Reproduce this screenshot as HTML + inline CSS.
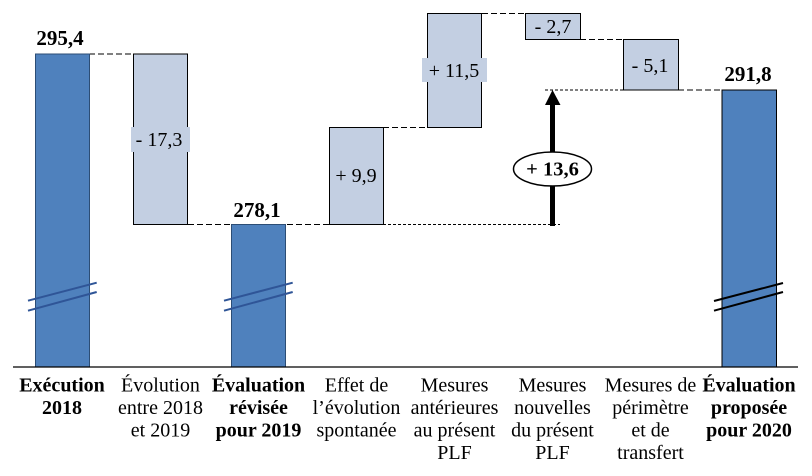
<!DOCTYPE html>
<html><head><meta charset="utf-8"><style>
html,body{margin:0;padding:0;background:#fff;}
svg{display:block;}
svg text{font-family:"Liberation Serif","DejaVu Serif",serif;}
</style></head><body>
<svg width="812" height="476" viewBox="0 0 812 476" xmlns="http://www.w3.org/2000/svg">
<!-- dashed connectors -->
<g stroke="#000" stroke-width="1" fill="none">
<line x1="89" y1="54" x2="134" y2="54" stroke-dasharray="6,3"/>
<line x1="188" y1="224.5" x2="330" y2="224.5" stroke-dasharray="6,3"/>
<line x1="383" y1="224.5" x2="560" y2="224.5" stroke-dasharray="3,2"/>
<line x1="383" y1="127.5" x2="428" y2="127.5" stroke-dasharray="6,3"/>
<line x1="482" y1="13.5" x2="526" y2="13.5" stroke-dasharray="6,3"/>
<line x1="580" y1="39.5" x2="624" y2="39.5" stroke-dasharray="6,3"/>
<line x1="545" y1="90" x2="624" y2="90" stroke-dasharray="3,2"/>
<line x1="678" y1="90" x2="722" y2="90" stroke-dasharray="6,3"/>
</g>
<!-- dark bars -->
<rect x="35.5" y="54" width="54" height="313" fill="#4f81bd" stroke="#2c4d75" stroke-width="1"/>
<rect x="231.5" y="224.5" width="54" height="142.5" fill="#4f81bd" stroke="#2c4d75" stroke-width="1"/>
<rect x="722" y="90" width="54.5" height="277" fill="#4f81bd" stroke="#000" stroke-width="1"/>
<!-- light bars -->
<g fill="#c3cfe2" stroke="#000" stroke-width="1">
<rect x="133.5" y="54" width="54" height="170.5"/>
<rect x="329.5" y="127.5" width="54" height="97"/>
<rect x="427.5" y="13.5" width="54" height="114"/>
<rect x="525.5" y="13.5" width="55" height="26"/>
<rect x="623.5" y="39.5" width="55" height="50.5"/>
</g>
<!-- label backgrounds -->
<rect x="131" y="127" width="59" height="25" fill="#c3cfe2"/>
<rect x="422" y="58" width="65" height="24" fill="#c3cfe2"/>
<!-- bar value labels -->
<g font-size="20" fill="#000" text-anchor="middle">
<text x="159" y="146">- 17,3</text>
<text x="356" y="182">+ 9,9</text>
<text x="454" y="77">+ 11,5</text>
<text x="553" y="33">- 2,7</text>
<text x="650" y="72">- 5,1</text>
</g>
<g font-size="21" font-weight="bold" fill="#000" text-anchor="middle">
<text x="60" y="45">295,4</text>
<text x="257" y="217">278,1</text>
<text x="748" y="81">291,8</text>
</g>
<!-- arrow -->
<rect x="550" y="103" width="5" height="123" fill="#000"/>
<polygon points="552.5,90 545,105 560.5,105" fill="#000"/>
<ellipse cx="552.5" cy="169" rx="39" ry="17" fill="#fff" stroke="#000" stroke-width="1.5"/>
<text x="552.5" y="175.5" font-size="20.5" font-weight="bold" text-anchor="middle">+ 13,6</text>
<!-- break marks -->
<g stroke="#2f5597" stroke-width="2">
<line x1="28" y1="300.7" x2="96.7" y2="282.7"/>
<line x1="28" y1="310.7" x2="96.7" y2="292"/>
<line x1="224" y1="300.7" x2="292.7" y2="282.7"/>
<line x1="224" y1="310.7" x2="292.7" y2="292"/>
</g>
<g stroke="#000" stroke-width="2">
<line x1="714" y1="301" x2="783" y2="283"/>
<line x1="714" y1="310.7" x2="783" y2="292"/>
</g>
<!-- axis -->
<line x1="13" y1="367" x2="798" y2="367" stroke="#000" stroke-width="1.2"/>
<!-- category labels -->
<g font-size="20" fill="#000" text-anchor="middle">
<g font-weight="bold">
<text x="62" y="391.5">Exécution</text>
<text x="62" y="414">2018</text>
<text x="258.5" y="391.5">Évaluation</text>
<text x="258.5" y="414">révisée</text>
<text x="258.5" y="436.5">pour 2019</text>
<text x="749" y="391.5">Évaluation</text>
<text x="749" y="414">proposée</text>
<text x="749" y="436.5">pour 2020</text>
</g>
<text x="160.5" y="391.5">Évolution</text>
<text x="160.5" y="414">entre 2018</text>
<text x="160.5" y="436.5">et 2019</text>
<text x="356.5" y="391.5">Effet de</text>
<text x="356.5" y="414">l’évolution</text>
<text x="356.5" y="436.5">spontanée</text>
<text x="454.5" y="391.5">Mesures</text>
<text x="454.5" y="414">antérieures</text>
<text x="454.5" y="436.5">au présent</text>
<text x="454.5" y="459">PLF</text>
<text x="552.5" y="391.5">Mesures</text>
<text x="552.5" y="414">nouvelles</text>
<text x="552.5" y="436.5">du présent</text>
<text x="552.5" y="459">PLF</text>
<text x="650.5" y="391.5">Mesures de</text>
<text x="650.5" y="414">périmètre</text>
<text x="650.5" y="436.5">et de</text>
<text x="650.5" y="459">transfert</text>
</g>
</svg>
</body></html>
